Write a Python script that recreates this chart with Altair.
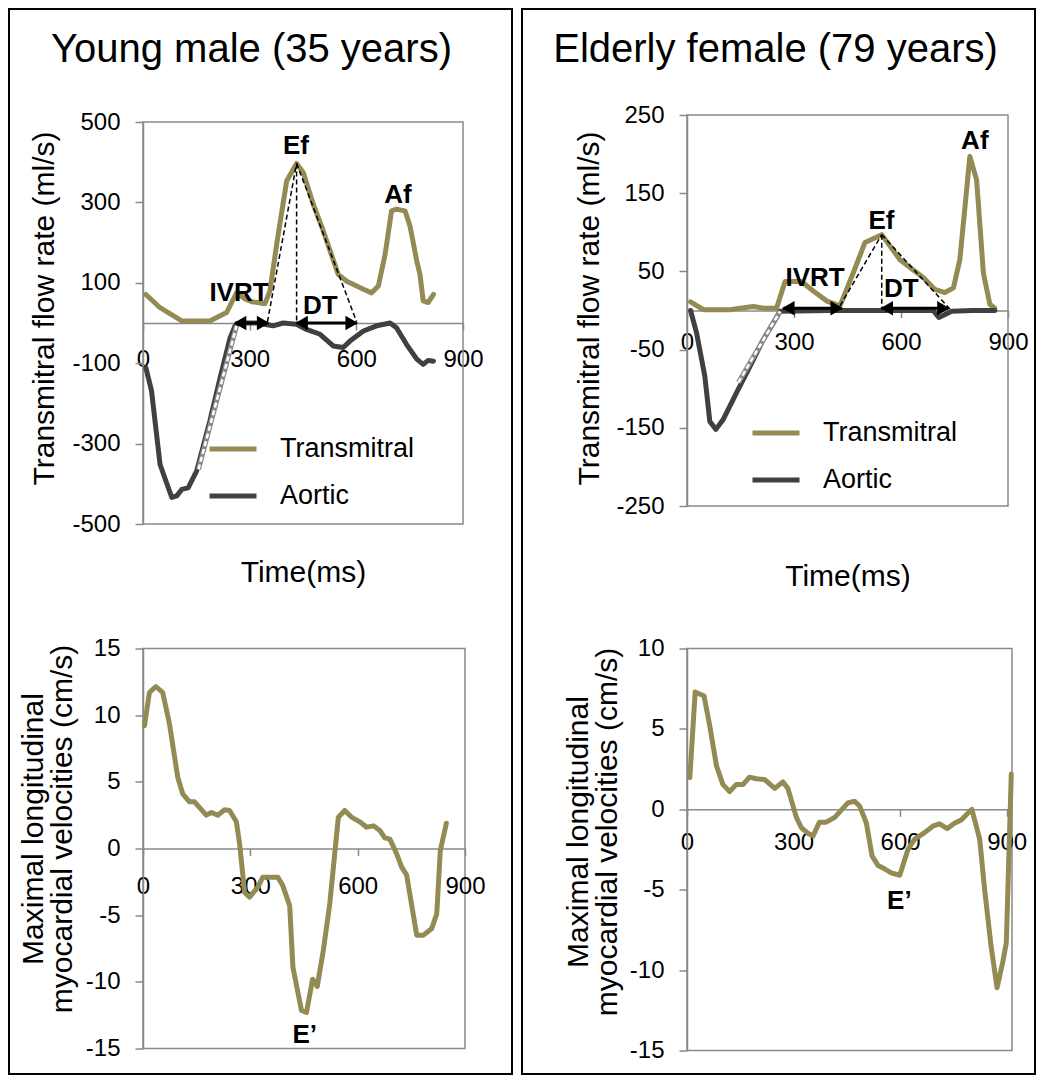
import altair as alt
import pandas as pd

OLIVE = "#948A54"
DARK = "#404040"
GRAY = "#898989"
FONT = "Liberation Sans"

# ---------------- data ----------------
# Young male, transmitral / aortic flow (ml/s) vs time (ms)
lt_tm_t = [8, 48, 109, 188, 235, 263, 287, 306, 343, 357, 376, 404, 432, 451, 479, 507, 549, 573, 620, 643, 662, 681, 699, 713, 737, 751, 770, 779, 788, 802, 817]
lt_tm_v = [71, 38, 5, 5, 26, 75, 60, 53, 48, 80, 196, 353, 397, 374, 295, 229, 121, 104, 84, 75, 92, 171, 279, 283, 279, 241, 154, 121, 55, 51, 71]
lt_ao_t = [8, 24, 48, 81, 95, 109, 127, 151, 188, 217, 245, 259, 273, 320, 366, 394, 432, 460, 498, 535, 563, 582, 620, 657, 695, 713, 741, 770, 788, 802, 817]
lt_ao_v = [-111, -169, -352, -434, -430, -414, -410, -368, -244, -136, -37, -7, 0, 0, -7, 0, -3, -16, -28, -57, -61, -45, -20, -7, 0, -12, -53, -90, -103, -93, -95]

# Elderly female, transmitral / aortic flow
rt_tm_t = [10, 46, 121, 149, 186, 214, 251, 275, 321, 354, 392, 429, 466, 499, 546, 597, 663, 695, 723, 747, 765, 793, 812, 831, 849, 863]
rt_tm_v = [11, 1, 1, 3, 5, 3, 3, 37, 37, 25, 12, 6, 48, 87, 97, 65, 42, 27, 23, 29, 65, 197, 167, 48, 8, 3]
rt_ao_t = [10, 27, 50, 64, 81, 102, 139, 177, 214, 242, 261, 400, 550, 690, 706, 742, 800, 863]
rt_ao_v = [0, -29, -84, -142, -152, -139, -105, -71, -37, -16, -1, 0, 0, 0, -9, -1, 0, 0]

# Myocardial velocities (cm/s)
lb_t = [4, 18, 36, 55, 74, 97, 111, 130, 144, 177, 191, 209, 228, 242, 261, 270, 284, 298, 321, 335, 377, 391, 410, 419, 443, 457, 474, 487, 504, 522, 546, 564, 583, 606, 625, 644, 662, 676, 690, 709, 723, 737, 765, 784, 807, 821, 831, 848]
lb_v = [9.2, 11.7, 12.15, 11.7, 9.35, 5.35, 4.1, 3.5, 3.5, 2.5, 2.7, 2.5, 2.9, 2.85, 2.0, 0.35, -3.3, -3.65, -2.9, -2.15, -2.15, -2.8, -4.3, -8.9, -12.15, -12.3, -9.8, -10.35, -7.65, -4.15, 2.35, 2.85, 2.35, 2.0, 1.6, 1.7, 1.35, 0.8, 0.7, -0.4, -1.4, -2.0, -6.5, -6.5, -6.0, -4.9, -0.15, 1.9]
rb_t = [8, 23, 48, 64, 83, 101, 120, 139, 158, 176, 195, 219, 247, 270, 284, 308, 322, 341, 355, 373, 392, 416, 453, 472, 486, 505, 521, 538, 556, 575, 599, 622, 641, 669, 692, 711, 733, 753, 772, 802, 824, 838, 856, 873, 889, 899, 913]
rb_v = [1.97, 7.3, 7.05, 5.2, 2.7, 1.55, 1.1, 1.55, 1.55, 2.0, 1.9, 1.85, 1.3, 1.7, 1.3, -0.5, -1.15, -1.5, -1.65, -0.8, -0.8, -0.5, 0.4, 0.5, 0.2, -0.85, -2.9, -3.5, -3.7, -3.95, -4.1, -2.5, -1.85, -1.45, -1.05, -0.9, -1.2, -0.87, -0.66, 0.0, -1.85, -5.0, -8.5, -11.1, -9.5, -8.3, 2.2]

series_names = ["Transmitral", "Aortic"]
panel_titles = ["Young male (35 years)", "Elderly female (79 years)"]
vel_title = ["Maximal longitudinal", "myocardial velocities (cm/s)"]
flow_title = "Transmitral flow rate (ml/s)"
time_title = "Time(ms)"
x_ticks = [0, 300, 600, 900]

# annotations (data coordinates)
lt_lab = ["Ef", "Af", "IVRT", "DT"]
lt_lab_t = [430, 717, 270, 499]
lt_lab_v = [440, 318, 75, 42]
rt_lab = ["Ef", "Af", "IVRT", "DT"]
rt_lab_t = [545, 807, 359, 601]
rt_lab_v = [114, 217, 41, 27]
lb_lab, lb_lab_t, lb_lab_v = ["E\u2019"], [452], [-14.0]
rb_lab, rb_lab_t, rb_lab_v = ["E\u2019"], [598], [-5.7]

# dashed construction lines: (seg, t, v)
lt_dash_seg = [1, 1, 2, 2, 3, 3]
lt_dash_t = [350, 432, 432, 432, 432, 601]
lt_dash_v = [3, 397, 397, 2, 397, 3]
rt_dash_seg = [1, 1, 2, 2, 3, 3]
rt_dash_t = [429, 546, 546, 546, 546, 737]
rt_dash_v = [6, 97, 97, 2, 97, 2]

# arrows (IVRT, DT)
lt_arr_t1, lt_arr_t2, lt_arr_v = [259, 432], [352, 601], [0, 0]
rt_arr_t1, rt_arr_t2, rt_arr_v = [270, 546], [434, 733], [3, 3]

# white dashed tangent on aortic upstroke
lt_wd_t, lt_wd_v = [156, 263], [-364, -7]
rt_wd_t, rt_wd_v = [144, 261], [-92, -1]


def flow_df(tm_t, tm_v, ao_t, ao_v):
    return pd.DataFrame({
        "t": tm_t + ao_t,
        "v": tm_v + ao_v,
        "series": [series_names[0]] * len(tm_t) + [series_names[1]] * len(ao_t),
    })


def heads_df(t1, t2, v):
    rows = []
    for a, b, y in zip(t1, t2, v):
        rows.append({"t": a + 14, "v": y, "shape": "triangle-left"})
        rows.append({"t": b - 14, "v": y, "shape": "triangle-right"})
    return pd.DataFrame(rows)


one = pd.DataFrame({"a": [0]})


def y_axis(values, title, tx, ty):
    return alt.Axis(values=values, tickSize=8, labelPadding=15, labelExpr="datum.value + ''",
                    title=title, titleAngle=270, titleBaseline="middle", titleAlign="center",
                    titleX=tx, titleY=ty, titleLineHeight=29)


def x_axis(offset, pad, title=None, tx=0, ty=0):
    if title:
        return alt.Axis(values=x_ticks, offset=offset, tickSize=7, labelPadding=pad,
                        labelFlush=False, labelExpr="datum.value + ''", title=title,
                        titleX=tx, titleY=ty, titleBaseline="middle", titleAlign="center")
    return alt.Axis(values=x_ticks, offset=offset, tickSize=7, labelPadding=pad,
                    labelFlush=False, labelExpr="datum.value + ''", title=None)


def rect_value(box, **kw):
    return alt.Chart(one).mark_rect(filled=False, **kw).encode(
        x=alt.value(box[0]), x2=alt.value(box[1]), y=alt.value(box[2]), y2=alt.value(box[3]))


def flow_chart(df, xdom, ydom, yrange, w, h, xax, yax, legx, legy, labs, dash, arr, wd,
               frame, plotbox, title, tpos):
    X = alt.X("t:Q", scale=alt.Scale(domain=xdom, nice=False, zero=False), axis=xax)
    Y = alt.Y("v:Q", scale=alt.Scale(domain=ydom, range=yrange, nice=False, zero=False), axis=yax)
    C = alt.Color("series:N", scale=alt.Scale(domain=series_names, range=[OLIVE, DARK]),
                  legend=alt.Legend(orient="none", legendX=legx, legendY=legy, title=None,
                                    symbolType="stroke", symbolSize=2209, symbolStrokeWidth=5,
                                    labelFontSize=27, labelFont=FONT, labelColor="black",
                                    labelOffset=21, labelLimit=400, rowPadding=8, padding=0))
    fr = rect_value(frame, stroke="black", strokeWidth=2)
    pb = rect_value(plotbox, stroke=GRAY, strokeWidth=1.5)
    ttl = alt.Chart(one).mark_text(font=FONT, fontSize=40, color="black", align="center",
                                   baseline="alphabetic", text=title).encode(
        x=alt.value(tpos[0]), y=alt.value(tpos[1]))
    tm = alt.Chart(df).transform_filter("datum.series == 'Transmitral'").mark_line(
        strokeWidth=5, strokeJoin="round", strokeCap="round").encode(x=X, y=Y, color=C)
    ao = alt.Chart(df).transform_filter("datum.series == 'Aortic'").mark_line(
        strokeWidth=5, strokeJoin="round", strokeCap="round").encode(x=X, y=Y, color=C)
    wdf = pd.DataFrame({"t": wd[0], "v": wd[1]})
    wd1 = alt.Chart(wdf).mark_line(color="#8a8a8a", strokeWidth=5).encode(x=X, y=Y)
    wd2 = alt.Chart(wdf).mark_line(color="white", strokeWidth=2.5, strokeDash=[5, 3]).encode(x=X, y=Y)
    ddf = pd.DataFrame({"seg": dash[0], "t": dash[1], "v": dash[2]})
    dl = alt.Chart(ddf).mark_line(color="black", strokeWidth=1.5, strokeDash=[5, 3]).encode(
        x=X, y=Y, detail="seg:N")
    adf = pd.DataFrame({"t": arr[0], "t2": arr[1], "v": arr[2]})
    ar = alt.Chart(adf).mark_rule(color="black", strokeWidth=3).encode(x=X, x2="t2:Q", y=Y)
    hd = alt.Chart(heads_df(*arr)).mark_point(filled=True, color="black", size=210, opacity=1).encode(
        x=X, y=Y, shape=alt.Shape("shape:N", scale=None))
    ldf = pd.DataFrame({"label": labs[0], "t": labs[1], "v": labs[2]})
    tx = alt.Chart(ldf).mark_text(font=FONT, fontSize=26, fontWeight="bold", color="black",
                                  baseline="middle", align="center").encode(x=X, y=Y, text="label:N")
    return alt.layer(fr, pb, ttl, tm, ao, wd1, wd2, dl, ar, hd, tx).properties(
        width=w, height=h, view=alt.ViewBackground(strokeOpacity=0))


def velo_chart(t, v, xdom, ydom, w, h, xax, yax, labs):
    X = alt.X("t:Q", scale=alt.Scale(domain=xdom, nice=False, zero=False), axis=xax)
    Y = alt.Y("v:Q", scale=alt.Scale(domain=ydom, nice=False, zero=False), axis=yax)
    ln = alt.Chart(pd.DataFrame({"t": t, "v": v})).mark_line(
        color=OLIVE, strokeWidth=5, strokeJoin="round", strokeCap="round").encode(x=X, y=Y)
    ldf = pd.DataFrame({"label": labs[0], "t": labs[1], "v": labs[2]})
    tx = alt.Chart(ldf).mark_text(font=FONT, fontSize=26, fontWeight="bold", color="black",
                                  baseline="middle", align="center").encode(x=X, y=Y, text="label:N")
    return alt.layer(ln, tx).properties(width=w, height=h)


# Left-top: cell is 409 tall, the plot itself spans 7..409 (so it sits 7px lower than right-top)
LT = flow_chart(flow_df(lt_tm_t, lt_tm_v, lt_ao_t, lt_ao_v), [0, 900], [-500, 500], [409, 7],
                320, 409,
                x_axis(-201, 17, time_title, 160, 249),
                y_axis([-500, -300, -100, 100, 300, 500], flow_title, -99, 193),
                64, 308, (lt_lab, lt_lab_t, lt_lab_v), (lt_dash_seg, lt_dash_t, lt_dash_v),
                (lt_arr_t1, lt_arr_t2, lt_arr_v), (lt_wd_t, lt_wd_v),
                (-134, 369, -106, 959), (0, 320, 7, 409), panel_titles[0], (108.5, -53))

RT = flow_chart(flow_df(rt_tm_t, rt_tm_v, rt_ao_t, rt_ao_v), [0, 900], [-250, 250], [391, 0],
                321, 391,
                x_axis(-195.5, 13, time_title, 160.5, 266),
                y_axis([-250, -150, -50, 50, 150, 250], flow_title, -98, 193),
                63, 292, (rt_lab, rt_lab_t, rt_lab_v), (rt_dash_seg, rt_dash_t, rt_dash_v),
                (rt_arr_t1, rt_arr_t2, rt_arr_v), (rt_wd_t, rt_wd_v),
                (-165, 348, -106, 959), (0, 321, 0, 391), panel_titles[1], (88.5, -53))

LB = velo_chart(lb_t, lb_v, [0, 900], [-15, 15], 322, 400,
                x_axis(-200, 19),
                y_axis([-15, -10, -5, 0, 5, 10, 15], vel_title, -110, 180),
                (lb_lab, lb_lab_t, lb_lab_v))

RB = velo_chart(rb_t, rb_v, [0, 915], [-15, 10], 325, 402,
                x_axis(-241.2, 14),
                y_axis([-15, -10, -5, 0, 5, 10], vel_title, -109, 183),
                (rb_lab, rb_lab_t, rb_lab_v))

chart = alt.concat(LT, RT, LB, RB, columns=2, bounds="flush",
                   spacing=alt.RowColnumber(row=124.5, column=222)).resolve_scale(
    color="independent").resolve_legend(color="independent").properties(
    padding=0, background="white"
).configure_view(stroke=GRAY, strokeWidth=1.5).configure_axis(
    domainColor=GRAY, domainWidth=1.5, tickColor=GRAY, tickWidth=1.5,
    labelFont=FONT, labelFontSize=24, labelColor="black",
    titleFont=FONT, titleFontSize=30, titleFontWeight="normal", titleColor="black", grid=False
).configure_text(font=FONT)

chart.save("out.html", embed_options={"renderer": "svg", "actions": False})
